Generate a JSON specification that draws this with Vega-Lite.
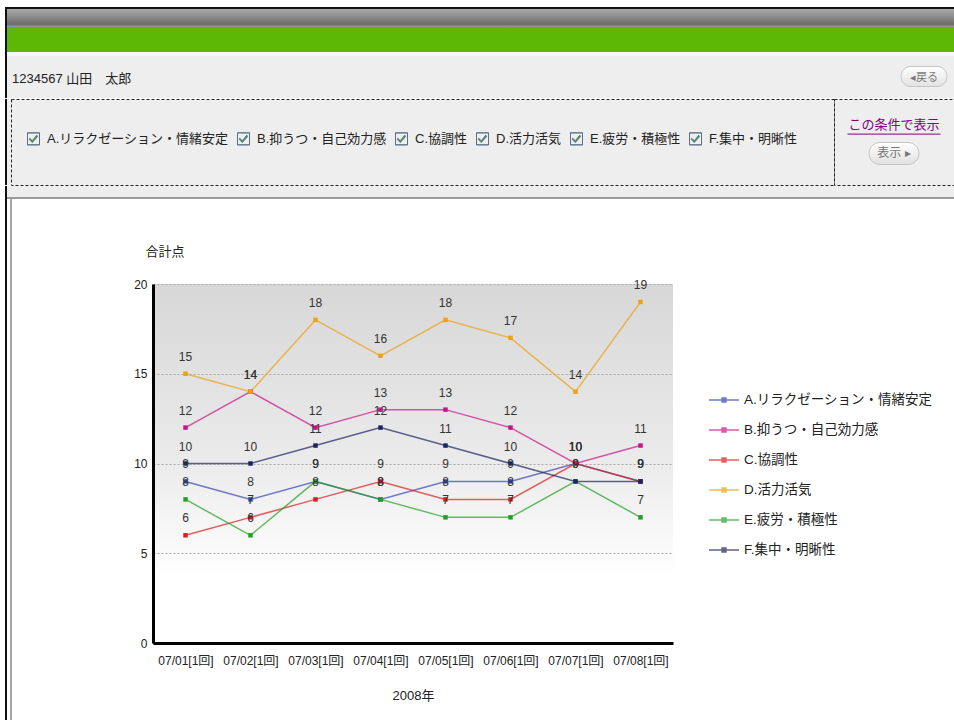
{
  "$schema": "https://vega.github.io/schema/vega-lite/v6.json",
  "background": "white",
  "padding": {"left": 5, "top": 7, "right": 0, "bottom": 0},
  "config": {
    "view": {"stroke": null},
    "font": "Liberation Sans, Noto Sans CJK JP, sans-serif"
  },
  "datasets": {
    "scores": [
      {"日付": "07/01[1回]", "項目": "A.リラクゼーション・情緒安定", "合計点": 9},
      {"日付": "07/02[1回]", "項目": "A.リラクゼーション・情緒安定", "合計点": 8},
      {"日付": "07/03[1回]", "項目": "A.リラクゼーション・情緒安定", "合計点": 9},
      {"日付": "07/04[1回]", "項目": "A.リラクゼーション・情緒安定", "合計点": 8},
      {"日付": "07/05[1回]", "項目": "A.リラクゼーション・情緒安定", "合計点": 9},
      {"日付": "07/06[1回]", "項目": "A.リラクゼーション・情緒安定", "合計点": 9},
      {"日付": "07/07[1回]", "項目": "A.リラクゼーション・情緒安定", "合計点": 10},
      {"日付": "07/08[1回]", "項目": "A.リラクゼーション・情緒安定", "合計点": 9},
      {"日付": "07/01[1回]", "項目": "B.抑うつ・自己効力感", "合計点": 12},
      {"日付": "07/02[1回]", "項目": "B.抑うつ・自己効力感", "合計点": 14},
      {"日付": "07/03[1回]", "項目": "B.抑うつ・自己効力感", "合計点": 12},
      {"日付": "07/04[1回]", "項目": "B.抑うつ・自己効力感", "合計点": 13},
      {"日付": "07/05[1回]", "項目": "B.抑うつ・自己効力感", "合計点": 13},
      {"日付": "07/06[1回]", "項目": "B.抑うつ・自己効力感", "合計点": 12},
      {"日付": "07/07[1回]", "項目": "B.抑うつ・自己効力感", "合計点": 10},
      {"日付": "07/08[1回]", "項目": "B.抑うつ・自己効力感", "合計点": 11},
      {"日付": "07/01[1回]", "項目": "C.協調性", "合計点": 6},
      {"日付": "07/02[1回]", "項目": "C.協調性", "合計点": 7},
      {"日付": "07/03[1回]", "項目": "C.協調性", "合計点": 8},
      {"日付": "07/04[1回]", "項目": "C.協調性", "合計点": 9},
      {"日付": "07/05[1回]", "項目": "C.協調性", "合計点": 8},
      {"日付": "07/06[1回]", "項目": "C.協調性", "合計点": 8},
      {"日付": "07/07[1回]", "項目": "C.協調性", "合計点": 10},
      {"日付": "07/08[1回]", "項目": "C.協調性", "合計点": 9},
      {"日付": "07/01[1回]", "項目": "D.活力活気", "合計点": 15},
      {"日付": "07/02[1回]", "項目": "D.活力活気", "合計点": 14},
      {"日付": "07/03[1回]", "項目": "D.活力活気", "合計点": 18},
      {"日付": "07/04[1回]", "項目": "D.活力活気", "合計点": 16},
      {"日付": "07/05[1回]", "項目": "D.活力活気", "合計点": 18},
      {"日付": "07/06[1回]", "項目": "D.活力活気", "合計点": 17},
      {"日付": "07/07[1回]", "項目": "D.活力活気", "合計点": 14},
      {"日付": "07/08[1回]", "項目": "D.活力活気", "合計点": 19},
      {"日付": "07/01[1回]", "項目": "E.疲労・積極性", "合計点": 8},
      {"日付": "07/02[1回]", "項目": "E.疲労・積極性", "合計点": 6},
      {"日付": "07/03[1回]", "項目": "E.疲労・積極性", "合計点": 9},
      {"日付": "07/04[1回]", "項目": "E.疲労・積極性", "合計点": 8},
      {"日付": "07/05[1回]", "項目": "E.疲労・積極性", "合計点": 7},
      {"日付": "07/06[1回]", "項目": "E.疲労・積極性", "合計点": 7},
      {"日付": "07/07[1回]", "項目": "E.疲労・積極性", "合計点": 9},
      {"日付": "07/08[1回]", "項目": "E.疲労・積極性", "合計点": 7},
      {"日付": "07/01[1回]", "項目": "F.集中・明晰性", "合計点": 10},
      {"日付": "07/02[1回]", "項目": "F.集中・明晰性", "合計点": 10},
      {"日付": "07/03[1回]", "項目": "F.集中・明晰性", "合計点": 11},
      {"日付": "07/04[1回]", "項目": "F.集中・明晰性", "合計点": 12},
      {"日付": "07/05[1回]", "項目": "F.集中・明晰性", "合計点": 11},
      {"日付": "07/06[1回]", "項目": "F.集中・明晰性", "合計点": 10},
      {"日付": "07/07[1回]", "項目": "F.集中・明晰性", "合計点": 9},
      {"日付": "07/08[1回]", "項目": "F.集中・明晰性", "合計点": 9}
    ]
  },
  "spacing": 0,
  "bounds": "full",
  "vconcat": [
    {"width": 949, "height": 2, "data": {"values": []}, "mark": "text", "view": {"fill": "#111111"}},
    {
      "spacing": 0, "bounds": "flush",
      "hconcat": [
        {"width": 2, "height": 18, "data": {"values": []}, "mark": "text", "view": {"fill": "#111111"}},
        {
          "width": 947, "height": 18, "data": {"values": []}, "mark": "text",
          "view": {"fill": {"gradient": "linear", "x1": 0, "y1": 0, "x2": 0, "y2": 1,
            "stops": [{"offset": 0, "color": "#ababab"}, {"offset": 0.4, "color": "#8e8e8e"}, {"offset": 0.85, "color": "#6c6c6c"}, {"offset": 1, "color": "#9c9c9c"}]}}
        }
      ]
    },
    {
      "spacing": 0, "bounds": "flush",
      "hconcat": [
        {"width": 2, "height": 25, "data": {"values": []}, "mark": "text", "view": {"fill": "#111111"}},
        {"width": 947, "height": 25, "data": {"values": []}, "mark": "text", "view": {"fill": "#5db806"}}
      ]
    },
    {
      "spacing": 0, "bounds": "flush",
      "hconcat": [
        {"width": 2, "height": 4, "data": {"values": []}, "mark": "text", "view": {"fill": "#111111"}},
        {"width": 947, "height": 4, "data": {"values": []}, "mark": "text", "view": {"fill": "#f7f7f7"}}
      ]
    },
    {
      "spacing": 0, "bounds": "flush",
      "hconcat": [
        {"width": 2, "height": 41, "data": {"values": []}, "mark": "text", "view": {"fill": "#111111"}},
        {
          "width": 893, "height": 41, "data": {"values": []}, "mark": "text",
          "view": {"fill": "#eeeeee"},
          "title": {"text": "1234567 山田　太郎", "anchor": "start", "frame": "group", "orient": "top",
            "offset": -36, "baseline": "middle", "dx": 5, "fontSize": 13, "fontWeight": "normal", "color": "#222222"}
        },
        {
          "width": 48, "height": 41,
          "data": {"values": [{"ボタン": "◂戻る"}]},
          "view": {"fill": "#eeeeee"},
          "layer": [
            {
              "mark": {"type": "point", "filled": true, "opacity": 1, "size": 2116,
                "shape": "M-0.565,-0.435H0.565A0.435,0.435 0 0 1 0.565,0.435H-0.565A0.435,0.435 0 0 1 -0.565,-0.435Z",
                "fill": {"gradient": "linear", "x1": 0, "y1": 0, "x2": 0, "y2": 1, "stops": [{"offset": 0, "color": "#ffffff"}, {"offset": 1, "color": "#e2e2e2"}]},
                "stroke": "#c4c4c4", "strokeWidth": 1}
            },
            {
              "mark": {"type": "text", "fontSize": 11, "color": "#7a7a7a", "dy": 1},
              "encoding": {"text": {"field": "ボタン", "type": "nominal"}}
            }
          ]
        },
        {"width": 6, "height": 41, "data": {"values": []}, "mark": "text", "view": {"fill": "#eeeeee"}}
      ]
    },
    {
      "spacing": 0, "bounds": "flush",
      "hconcat": [
        {"width": 2, "height": 1, "data": {"values": []}, "mark": "text", "view": {"fill": "#111111"}},
        {"width": 947, "height": 1, "data": {"values": []}, "mark": "text", "view": {"fill": "#eeeeee"}}
      ]
    },
    {
      "spacing": 0, "bounds": "flush",
      "hconcat": [
        {"width": 2, "height": 86, "data": {"values": []}, "mark": "text", "view": {"fill": "#111111"}},
        {"width": 4, "height": 86, "data": {"values": []}, "mark": "text", "view": {"fill": "#eeeeee"}},
        {
          "width": 823, "height": 86,
          "data": {"name": "scores"},
          "view": {"fill": "#eeeeee", "stroke": "#222222", "strokeDash": [3, 2], "strokeWidth": 1},
          "mark": {"type": "point", "opacity": 0, "filled": true, "fill": "#35a535", "stroke": "#5b6d84", "strokeWidth": 0.9},
          "encoding": {
            "shape": {
              "field": "項目", "type": "nominal",
              "scale": {"range": [
                "M-1,-1H1V1H-1Z M-1,-1V1H1V-1Z M-0.65,-0.1L-0.2,0.3L0.55,-0.62L0.68,-0.38L-0.2,0.62L-0.68,0.12Z",
                "M-1,-1H1V1H-1Z M-1,-1V1H1V-1Z M-0.65,-0.1L-0.2,0.3L0.55,-0.62L0.68,-0.38L-0.2,0.62L-0.68,0.12Z",
                "M-1,-1H1V1H-1Z M-1,-1V1H1V-1Z M-0.65,-0.1L-0.2,0.3L0.55,-0.62L0.68,-0.38L-0.2,0.62L-0.68,0.12Z",
                "M-1,-1H1V1H-1Z M-1,-1V1H1V-1Z M-0.65,-0.1L-0.2,0.3L0.55,-0.62L0.68,-0.38L-0.2,0.62L-0.68,0.12Z",
                "M-1,-1H1V1H-1Z M-1,-1V1H1V-1Z M-0.65,-0.1L-0.2,0.3L0.55,-0.62L0.68,-0.38L-0.2,0.62L-0.68,0.12Z",
                "M-1,-1H1V1H-1Z M-1,-1V1H1V-1Z M-0.65,-0.1L-0.2,0.3L0.55,-0.62L0.68,-0.38L-0.2,0.62L-0.68,0.12Z"
              ]},
              "legend": {
                "title": null, "orient": "none", "legendX": 22, "legendY": 125,
                "direction": "horizontal", "columnPadding": 6, "padding": 0,
                "symbolSize": 144, "symbolStrokeWidth": 0.9, "symbolOpacity": 1,
                "labelFontSize": 13, "labelColor": "#222222", "labelOffset": 7, "labelLimit": 400
              }
            }
          }
        },
        {
          "width": 120, "height": 86,
          "data": {"values": [{"行": "リンク", "文字": "この条件で表示"}, {"行": "ボタン", "文字": "表示 ▸"}]},
          "view": {"fill": "#eeeeee", "stroke": "#222222", "strokeDash": [3, 2], "strokeWidth": 1},
          "encoding": {
            "y": {"field": "行", "type": "nominal", "axis": null,
              "scale": {"type": "point", "domain": ["リンク", "ボタン"], "padding": 1.39, "align": 0.45}}
          },
          "layer": [
            {
              "transform": [{"filter": "datum['行'] === 'ボタン'"}],
              "mark": {"type": "point", "filled": true, "opacity": 1, "size": 2500,
                "shape": "M-0.56,-0.44H0.56A0.44,0.44 0 0 1 0.56,0.44H-0.56A0.44,0.44 0 0 1 -0.56,-0.44Z",
                "fill": {"gradient": "linear", "x1": 0, "y1": 0, "x2": 0, "y2": 1, "stops": [{"offset": 0, "color": "#ffffff"}, {"offset": 1, "color": "#e0e0e0"}]},
                "stroke": "#c4c4c4", "strokeWidth": 1}
            },
            {
              "transform": [{"filter": "datum['行'] === 'ボタン'"}],
              "mark": {"type": "text", "fontSize": 12, "color": "#777777"},
              "encoding": {"text": {"field": "文字", "type": "nominal"}}
            },
            {
              "transform": [{"filter": "datum['行'] === 'リンク'"}],
              "mark": {"type": "text", "fontSize": 13, "color": "#800080"},
              "encoding": {"text": {"field": "文字", "type": "nominal"}}
            },
            {
              "transform": [{"filter": "datum['行'] === 'リンク'"}],
              "mark": {"type": "point", "filled": false, "opacity": 1, "size": 8649,
                "shape": "M-1,0.2H1", "stroke": "#800080", "strokeWidth": 1}
            }
          ]
        }
      ]
    },
    {
      "spacing": 0, "bounds": "flush",
      "hconcat": [
        {"width": 2, "height": 11, "data": {"values": []}, "mark": "text", "view": {"fill": "#111111"}},
        {"width": 947, "height": 11, "data": {"values": []}, "mark": "text", "view": {"fill": "#eeeeee"}}
      ]
    },
    {
      "spacing": 0, "bounds": "flush",
      "hconcat": [
        {"width": 2, "height": 2, "data": {"values": []}, "mark": "text", "view": {"fill": "#111111"}},
        {"width": 947, "height": 2, "data": {"values": []}, "mark": "text", "view": {"fill": "#9a9a9a"}}
      ]
    },
    {
      "spacing": 0, "bounds": "flush",
      "hconcat": [
        {"width": 2, "height": 522, "data": {"values": []}, "mark": "text", "view": {"fill": "#111111"}},
        {"width": 3, "height": 522, "data": {"values": []}, "mark": "text"},
        {"width": 2, "height": 522, "data": {"values": []}, "mark": "text", "view": {"fill": "#a6a6a6"}},
        {
          "spacing": 0, "bounds": "flush",
          "vconcat": [
            {"width": 942, "height": 85, "data": {"values": []}, "mark": "text"},
            {
              "spacing": 0, "bounds": "flush",
              "hconcat": [
                {"width": 141, "height": 359, "data": {"values": []}, "mark": "text"},
                {
                  "width": 520,
                  "height": 359,
                  "data": {"name": "scores"},
                  "view": {
                    "fill": {"gradient": "linear", "x1": 0, "y1": 0, "x2": 0, "y2": 1,
                      "stops": [{"offset": 0, "color": "#d7d7d7"}, {"offset": 0.5, "color": "#ebebeb"}, {"offset": 0.82, "color": "#ffffff"}, {"offset": 1, "color": "#ffffff"}]}
                  },
                  "encoding": {
                    "x": {
                      "field": "日付", "type": "ordinal", "sort": null,
                      "scale": {"type": "point", "padding": 0.5},
                      "axis": {
                        "title": "2008年", "labelAngle": 0, "ticks": false, "grid": false,
                        "domainColor": "#000000", "domainWidth": 3,
                        "labelPadding": 12, "labelFontSize": 12, "labelColor": "#222222",
                        "titleFontSize": 13, "titleFontWeight": "normal", "titleColor": "#222222", "titlePadding": 23
                      }
                    },
                    "y": {
                      "field": "合計点", "type": "quantitative",
                      "scale": {"domain": [0, 20], "nice": false},
                      "axis": {
                        "title": "合計点", "titleAngle": 0, "titleAlign": "left", "titleBaseline": "middle",
                        "titleX": -8, "titleY": -33, "titleFontSize": 13, "titleFontWeight": "normal", "titleColor": "#222222",
                        "values": [0, 5, 10, 15, 20], "ticks": false, "labelPadding": 6,
                        "labelFontSize": 12, "labelColor": "#222222",
                        "grid": true, "gridDash": [2, 2], "gridColor": "#a8a8a8", "gridWidth": 1,
                        "domainColor": "#000000", "domainWidth": 3
                      }
                    }
                  },
                  "layer": [
                    {
                      "mark": {"type": "line", "opacity": 0.7, "strokeWidth": 1.5},
                      "encoding": {
                        "color": {
                          "field": "項目", "type": "nominal",
                          "scale": {
                            "domain": ["A.リラクゼーション・情緒安定", "B.抑うつ・自己効力感", "C.協調性", "D.活力活気", "E.疲労・積極性", "F.集中・明晰性"],
                            "range": ["#3346b0", "#c8148c", "#d81e1e", "#f0a010", "#23a023", "#1c2460"]
                          },
                          "legend": {
                            "title": null, "orient": "none", "legendX": 703, "legendY": 377,
                            "symbolType": "M-1,0H1M-0.13,-0.13H0.13V0.13H-0.13Z", "symbolSize": 900,
                            "symbolStrokeWidth": 1.5, "labelFontSize": 13.5, "labelColor": "#222222",
                            "labelOffset": 4, "labelLimit": 400, "rowPadding": 7, "padding": 0
                          }
                        }
                      }
                    },
                    {
                      "mark": {"type": "square", "size": 20, "opacity": 1},
                      "encoding": {
                        "color": {
                          "field": "項目", "type": "nominal",
                          "scale": {
                            "domain": ["A.リラクゼーション・情緒安定", "B.抑うつ・自己効力感", "C.協調性", "D.活力活気", "E.疲労・積極性", "F.集中・明晰性"],
                            "range": ["#3346b0", "#c8148c", "#d81e1e", "#f0a010", "#23a023", "#1c2460"]
                          },
                          "legend": {
                            "title": null, "orient": "none", "legendX": 703, "legendY": 377,
                            "symbolType": "M-1,0H1M-0.13,-0.13H0.13V0.13H-0.13Z", "symbolSize": 900,
                            "symbolStrokeWidth": 1.5, "labelFontSize": 13.5, "labelColor": "#222222",
                            "labelOffset": 4, "labelLimit": 400, "rowPadding": 7, "padding": 0
                          }
                        }
                      }
                    },
                    {
                      "mark": {"type": "text", "dy": -17, "fontSize": 12, "color": "#333333", "baseline": "middle"},
                      "encoding": {"text": {"field": "合計点", "type": "quantitative"}}
                    }
                  ]
                }
              ]
            }
          ]
        }
      ]
    }
  ]
}
